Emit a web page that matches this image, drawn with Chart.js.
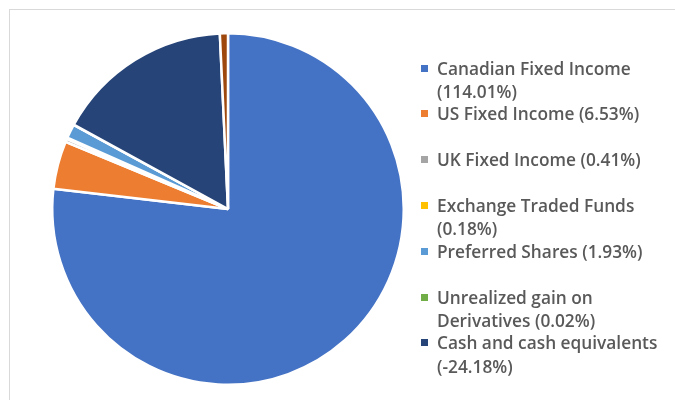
<!DOCTYPE html>
<html>
<head>
<meta charset="utf-8">
<script src="https://cdn.jsdelivr.net/npm/chart.js@4/dist/chart.umd.min.js"></script>
<style>
  body { margin: 0; background: #fff; }
  #wrap { position: relative; width: 675px; height: 400px; overflow: hidden; }
  #frame { position: absolute; left: 9px; top: 9px; width: 700px; height: 420px;
           border-left: 1.5px solid #d9d9d9; border-top: 1.5px solid #d9d9d9; }
  #pieBox { position: absolute; left: 0; top: 0; width: 420px; height: 400px; }
  #legend { position: absolute; left: 419px; top: 0; width: 256px; height: 400px;
            font-family: "Open Sans", sans-serif; font-size: 17.3px; font-weight: 600;
            color: #595959; }
  .item { position: absolute; left: 0; width: 250px; line-height: 23.5px; }
  .mark { position: absolute; left: 2px; top: 8px; width: 7px; height: 7px; }
  .txt { margin-left: 18px; width: 232px; }
</style>
</head>
<body>
<div id="wrap">
  <div id="frame"></div>
  <div id="pieBox"><canvas id="pieChart" width="420" height="400"></canvas></div>
  <div id="legend"></div>
</div>
<script>
// holdings (percent of net assets); last slice is not listed in the legend
const categories = [
  "Canadian Fixed Income",
  "US Fixed Income",
  "UK Fixed Income",
  "Exchange Traded Funds",
  "Preferred Shares",
  "Unrealized gain on Derivatives",
  "Cash and cash equivalents",
  "Other",
];
const percents = [114.01, 6.53, 0.41, 0.18, 1.93, 0.02, -24.18, 1.10];
const colors = ["#4472c4", "#ed7d31", "#a5a5a5", "#ffc000", "#5b9bd5", "#70ad47", "#264478", "#9e480e"];
const legendCount = 7;

// pie slices use the size of each holding
const sliceValues = percents.map((p) => Math.abs(p));

const ctx = document.getElementById("pieChart").getContext("2d");
const pieChart = new Chart(ctx, {
  type: "pie",
  data: {
    labels: categories,
    datasets: [
      {
        data: sliceValues,
        backgroundColor: colors,
        borderColor: "#ffffff",
        borderWidth: 2.5,
      },
    ],
  },
  options: {
    responsive: false,
    animation: false,
    layout: { padding: { left: 51, top: 32, right: 15, bottom: 14 } },
    plugins: {
      legend: { display: false },
      tooltip: { enabled: false },
    },
  },
});

// legend
const legend = document.getElementById("legend");
for (let i = 0; i < legendCount; i++) {
  const item = document.createElement("div");
  item.className = "item";
  item.style.top = (56.5 + i * 45.8) + "px";
  const mark = document.createElement("span");
  mark.className = "mark";
  mark.style.background = colors[i];
  const txt = document.createElement("div");
  txt.className = "txt";
  txt.textContent = categories[i] + " (" + percents[i].toFixed(2) + "%)";
  item.appendChild(mark);
  item.appendChild(txt);
  legend.appendChild(item);
}
</script>
</body>
</html>
